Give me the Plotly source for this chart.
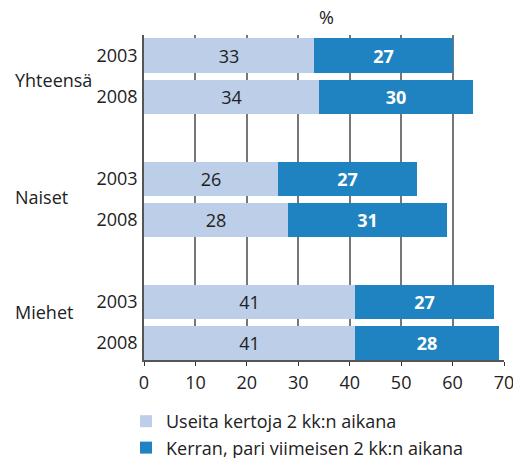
import plotly.graph_objects as go

groups = ["Yhteensä", "Naiset", "Miehet"]
years = ["2003", "2008"]
useita = [33, 34, 26, 28, 41, 41]
kerran = [27, 30, 27, 31, 27, 28]
series_names = ["Useita kertoja 2 kk:n aikana", "Kerran, pari viimeisen 2 kk:n aikana"]
x_ticks = [0, 10, 20, 30, 40, 50, 60, 70]

# slot positions: two bars per group, an empty slot between groups
ypos = []
for g in range(len(groups)):
    for j in range(len(years)):
        ypos.append(g * 3 + j)
ylabels = years * len(groups)

FONT = "Open Sans"
FS = 18
W, H = 521, 458
OFF = 8  # page body margin
fig = go.Figure()
fig.add_trace(go.Bar(
    y=ypos, x=useita, orientation="h", name=series_names[0],
    marker=dict(color="#BCCEE8", line=dict(width=0)),
    width=0.83, text=[str(v) for v in useita], textposition="inside",
    insidetextanchor="middle", textangle=0,
    textfont=dict(family=FONT, size=FS, color="#222222"),
))
fig.add_trace(go.Bar(
    y=ypos, x=kerran, orientation="h", name=series_names[1],
    marker=dict(color="#1F83C1", line=dict(width=0)),
    width=0.83, text=["<b>%d</b>" % v for v in kerran], textposition="inside",
    insidetextanchor="middle", textangle=0,
    textfont=dict(family=FONT, size=FS, color="#FFFFFF"),
))

group_y = [0.6, 3.45, 6.25]
for name, gy in zip(groups, group_y):
    fig.add_annotation(x=0, xref="paper", xshift=-131, y=gy, yref="y",
                       text=name, showarrow=False, xanchor="left",
                       font=dict(family=FONT, size=FS, color="#222222"))

fig.add_annotation(x=0.506, xref="paper", y=1, yref="paper", yshift=18,
                   text="%", showarrow=False, xanchor="center", yanchor="middle",
                   font=dict(family=FONT, size=FS, color="#222222"))

L, T = 144 - OFF, 35 - OFF
PW, PH = 360, 325
fig.update_layout(
    width=W, height=H,
    margin=dict(l=L, r=W - L - PW, t=T, b=H - T - PH, autoexpand=False),
    barmode="stack",
    plot_bgcolor="white", paper_bgcolor="white",
    font=dict(family=FONT, size=FS, color="#222222"),
    uniformtext=dict(minsize=10, mode="show"),
    xaxis=dict(range=[0, 70], tickvals=x_ticks, showgrid=True,
               gridcolor="#777777", gridwidth=1.5, zeroline=False,
               showline=True, linecolor="#555555", linewidth=1.5,
               ticks="outside", ticklen=4, tickcolor="#333333",
               ticklabelstandoff=2, automargin=False,
               tickfont=dict(family=FONT, size=FS, color="#222222")),
    yaxis=dict(range=[7.42, -0.5], tickvals=ypos, ticktext=ylabels,
               showgrid=False, zeroline=False, showline=True,
               linecolor="#555555", linewidth=1.5, ticks="",
               ticklabelstandoff=1, automargin=False,
               tickfont=dict(family=FONT, size=FS, color="#222222")),
    legend=dict(xref="container", yref="container",
                x=(126 - OFF) / W, xanchor="left", y=1 - (403 - OFF) / H, yanchor="top",
                traceorder="normal", bgcolor="rgba(0,0,0,0)",
                font=dict(family=FONT, size=FS, color="#222222"),
                itemwidth=30, tracegroupgap=0),
    bargap=0,
)

fig.write_html("out.html")
